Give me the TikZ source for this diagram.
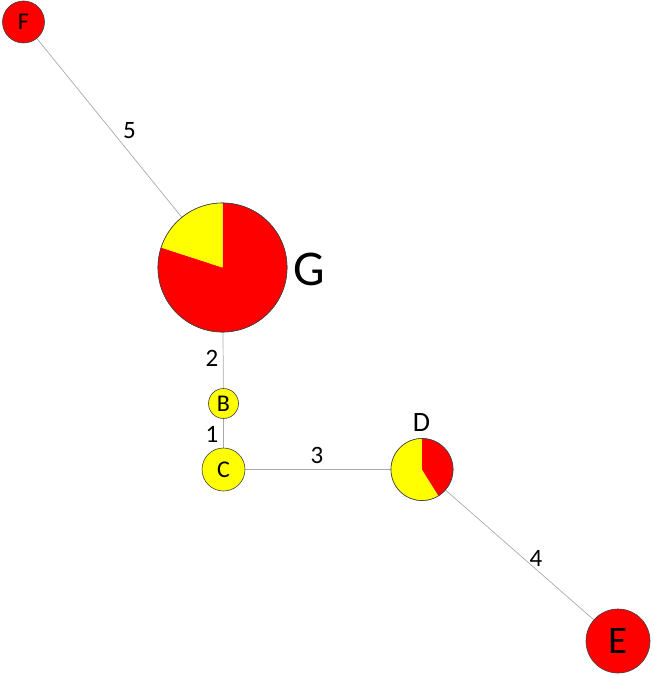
\documentclass[tikz,border=0pt]{standalone}
\usepackage{fontspec}
\setmainfont{Carlito}
\usetikzlibrary{backgrounds}
\definecolor{pred}{RGB}{255,0,0}
\definecolor{pyel}{RGB}{255,255,0}
\definecolor{edgegray}{RGB}{170,170,170}
\tikzset{
  vtx/.style={circle, draw=black!75, line width=0.6pt, inner sep=0pt, minimum size=#1},
  redv/.style={vtx=#1, fill=pred},
  yelv/.style={vtx=#1, fill=pyel},
  conn/.style={draw=edgegray, line width=0.7pt},
  elab/.style={font=\fontsize{25}{30}\selectfont, inner sep=0pt},
  vtext/.style={font=\fontsize{24}{28}\selectfont},
}
\begin{document}
\begin{tikzpicture}[x=1pt,y=1pt]
\useasboundingbox (0,0) rectangle (653,-676);
% nodes
\node[redv=42pt, vtext] (F) at (23.5,-22) {F};
\node[vtx=129pt] (G) at (222.5,-267.5) {};
\node[yelv=30pt, vtext] (B) at (223.5,-403.5) {B};
\node[yelv=43pt, vtext] (C) at (223.5,-469.5) {C};
\node[vtx=62pt] (D) at (422,-469.5) {};
\node[redv=64pt, font=\fontsize{39}{44}\selectfont] (E) at (618,-641) {E};
% pies
\fill[pred] (G.center) -- ++(90:64.5) arc[start angle=90, end angle=-198, radius=64.5] -- cycle;
\fill[pyel] (G.center) -- ++(90:64.5) arc[start angle=90, end angle=162, radius=64.5] -- cycle;
\draw[black!75, line width=0.6pt] (G.center) circle[radius=64.5];
\fill[pyel] (D.center) -- ++(90:31) arc[start angle=90, end angle=302, radius=31] -- cycle;
\fill[pred] (D.center) -- ++(90:31) arc[start angle=90, end angle=-58, radius=31] -- cycle;
\draw[black!75, line width=0.6pt] (D.center) circle[radius=31];
% labels
\node[font=\fontsize{50}{56}\selectfont, inner sep=0pt] (labG) at (309.5,-269) {G};
\node[font=\fontsize{28}{32}\selectfont, inner sep=0pt] (labD) at (421.5,-423) {D};
\node[elab] (l5) at (129.5,-131) {5};
\node[elab] (l2) at (212,-358) {2};
\node[elab] (l1) at (212,-434) {1};
\node[elab] (l3) at (317,-455) {3};
\node[elab] (l4) at (536,-558) {4};
% connectors
\begin{pgfonlayer}{background}
\draw[conn] (F.center) -- (G.center);
\draw[conn] (G.center) -- (B.center);
\draw[conn] (B.center) -- (C.center);
\draw[conn] (C.center) -- (D.center);
\draw[conn] (D.center) -- (E.center);
\end{pgfonlayer}
\end{tikzpicture}
\end{document}
